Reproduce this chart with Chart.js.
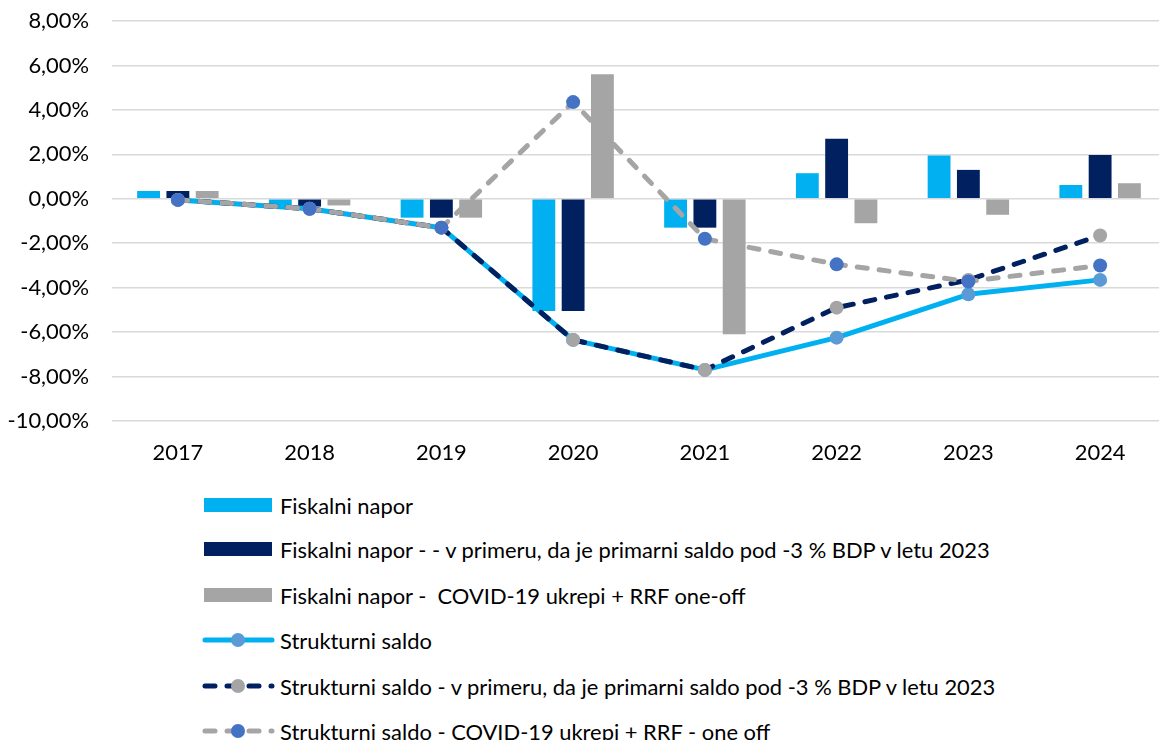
<!DOCTYPE html>
<html>
<head>
<meta charset="utf-8">
<script src="https://cdn.jsdelivr.net/npm/chart.js@4.4.0/dist/chart.umd.min.js"></script>
<style>
  html, body { margin: 0; padding: 0; background: #fff; overflow: hidden; width: 1159px; height: 740px; }
  #wrap { position: absolute; left: 0; top: 0; width: 1173px; height: 470px; }
  #legend { position: absolute; left: 202px; top: 482px; font-family: Lato, "Noto Sans", sans-serif; color: #000; }
  .item { position: absolute; left: 0; height: 30px; display: flex; align-items: center; white-space: pre; }
  .item svg { width: 74px; height: 30px; flex: none; }
  .item span { margin-left: 4px; }
</style>
</head>
<body>
<div id="wrap"><canvas id="c" width="1173" height="470"></canvas></div>
<div id="legend"></div>
<script>
const FONT = 'Lato';
const categories = ['2017','2018','2019','2020','2021','2022','2023','2024'];

const seriesNames = [
  'Fiskalni napor',
  'Fiskalni napor - - v primeru, da je primarni saldo pod -3 % BDP v letu 2023',
  'Fiskalni napor -  COVID-19 ukrepi + RRF one-off',
  'Strukturni saldo',
  'Strukturni saldo - v primeru, da je primarni saldo pod -3 % BDP v letu 2023',
  'Strukturni saldo - COVID-19 ukrepi + RRF - one off'
];

const fiskalniNapor        = [0.35, -0.30, -0.85, -5.05, -1.30, 1.15, 1.95, 0.62];
const fiskalniNaporPrimar  = [0.35, -0.35, -0.85, -5.05, -1.30, 2.70, 1.30, 1.97];
const fiskalniNaporCovid   = [0.35, -0.30, -0.85,  5.60, -6.10, -1.10, -0.72, 0.70];
const strukturniSaldo       = [-0.05, -0.45, -1.30, -6.35, -7.70, -6.25, -4.30, -3.65];
const strukturniSaldoPrimar = [-0.05, -0.45, -1.30, -6.35, -7.70, -4.90, -3.65, -1.65];
const strukturniSaldoCovid  = [-0.05, -0.45, -1.30,  4.35, -1.80, -2.95, -3.72, -3.00];

const yMin = -10, yMax = 8, yStep = 2;

const C_LIGHT = '#00B0F0', C_DARK = '#002060', C_GREY = '#A5A5A5', C_MBLUE = '#5B9BD5', C_BLUE = '#4472C4';

const mctx = document.createElement('canvas').getContext('2d');
mctx.font = '100px ' + FONT;
const wLong = mctx.measureText(seriesNames[1]).width;
const FS = Math.round(713 / wLong * 100 * 10) / 10;

const lineCommon = { type: 'line', tension: 0, borderWidth: 5, pointRadius: 7, pointHoverRadius: 7, pointBorderWidth: 0, fill: false, borderCapStyle: 'round', borderJoinStyle: 'round' };

const datasets = [
  { type: 'bar', label: seriesNames[0], data: fiskalniNapor, backgroundColor: C_LIGHT, order: 10 },
  { type: 'bar', label: seriesNames[1], data: fiskalniNaporPrimar, backgroundColor: C_DARK, order: 11 },
  { type: 'bar', label: seriesNames[2], data: fiskalniNaporCovid, backgroundColor: C_GREY, order: 12 },
  Object.assign({}, lineCommon, { label: seriesNames[3], data: strukturniSaldo, borderColor: C_LIGHT, pointBackgroundColor: C_MBLUE, pointBorderColor: C_MBLUE, order: 3 }),
  Object.assign({}, lineCommon, { label: seriesNames[4], data: strukturniSaldoPrimar, borderColor: C_DARK, borderDash: [10, 12], pointBackgroundColor: C_GREY, pointBorderColor: C_GREY, order: 2 }),
  Object.assign({}, lineCommon, { label: seriesNames[5], data: strukturniSaldoCovid, borderColor: C_GREY, borderDash: [10, 12], pointBackgroundColor: C_BLUE, pointBorderColor: C_BLUE, order: 1 })
];

const fmt = v => v.toFixed(2).replace('.', ',') + '%';

const chart = new Chart(document.getElementById('c'), {
  data: { labels: categories, datasets: datasets },
  options: {
    responsive: false,
    animation: false,
    devicePixelRatio: 1,
    layout: { padding: { top: 21, right: 0, bottom: 0, left: 0 } },
    datasets: { bar: { categoryPercentage: 0.667, barPercentage: 0.78 } },
    plugins: { legend: { display: false }, tooltip: { enabled: false } },
    scales: {
      x: {
        grid: { display: false, drawTicks: false },
        border: { display: false },
        ticks: { color: '#000', font: { family: FONT, size: FS }, padding: 19, maxRotation: 0 },
        afterFit: s => { s.height = 49; s.paddingLeft = 0; s.paddingRight = 0; }
      },
      y: {
        min: yMin, max: yMax,
        grid: { color: '#D9D9D9', lineWidth: 1.5, drawTicks: false },
        border: { display: false },
        ticks: { stepSize: yStep, color: '#000', font: { family: FONT, size: FS }, padding: 23, callback: v => fmt(v) },
        afterFit: s => { s.width = 112; s.paddingTop = 0; s.paddingBottom = 0; }
      }
    }
  }
});

const legend = document.getElementById('legend');
legend.style.fontSize = FS + 'px';
const rowCenters = [23, 67, 113, 158, 204, 249];
chart.data.datasets.forEach((ds, i) => {
  const div = document.createElement('div');
  div.className = 'item';
  div.style.top = (rowCenters[i] - 15) + 'px';
  let svg;
  if (ds.type === 'bar') {
    svg = `<svg viewBox="0 0 74 30"><rect x="2" y="8" width="68" height="14" fill="${ds.backgroundColor}"/></svg>`;
  } else {
    const dash = ds.borderDash ? `stroke-dasharray="10 12"` : '';
    svg = `<svg viewBox="0 0 74 30"><line x1="3" y1="15" x2="70" y2="15" stroke="${ds.borderColor}" stroke-width="5" stroke-linecap="round" ${dash}/><circle cx="36" cy="15" r="7" fill="${ds.pointBackgroundColor}"/></svg>`;
  }
  div.innerHTML = svg + '<span></span>';
  div.querySelector('span').textContent = ds.label;
  legend.appendChild(div);
});
</script>
</body>
</html>
